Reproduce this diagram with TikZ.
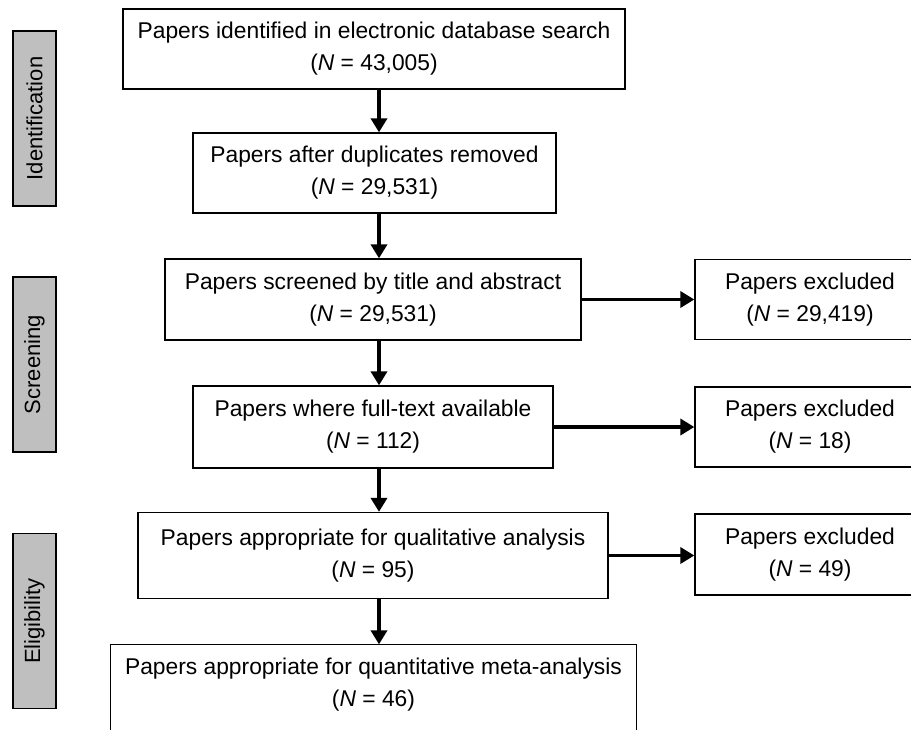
\documentclass[tikz,border=0pt]{standalone}
\usepackage{fontspec}
\setmainfont{Liberation Sans}
\usetikzlibrary{arrows.meta,calc}
\begin{document}
\begin{tikzpicture}[x=1pt, y=-1pt,
    box/.style={draw, line width=1.3pt, align=center, inner sep=0pt,
        font=\fontsize{22.8}{32}\selectfont},
    stage/.style={draw, line width=1.3pt, fill=black!25, inner sep=0pt,
        minimum width=43pt, minimum height=175pt,
        font=\fontsize{22}{26}\selectfont},
    flow/.style={line width=3.8pt, -{Triangle[length=14pt,width=16pt]}}]
    \clip (0,0) rectangle (911,729);
    \node[stage] (s1) at (34.5, 118.5) {\rotatebox{90}{Identification}};
    \node[stage] (s2) at (34.5, 364.5) {\rotatebox{90}{Screening}};
    \node[stage] (s3) at (34.5, 621) {\rotatebox{90}{Eligibility}};
    \node[box, minimum width=502pt, minimum height=80pt] (b1) at (374, 49)
        {Papers identified in electronic database search\\(\textit{N} = 43,005)};
    \node[box, minimum width=363pt, minimum height=80pt] (b2) at (374.5, 173)
        {Papers after duplicates removed\\(\textit{N} = 29,531)};
    \node[box, minimum width=416pt, minimum height=81pt] (b3) at (373, 299.5)
        {Papers screened by title and abstract\\(\textit{N} = 29,531)};
    \node[box, minimum width=360pt, minimum height=82pt] (b4) at (373, 427)
        {Papers where full-text available\\(\textit{N} = 112)};
    \node[box, minimum width=470pt, minimum height=86pt] (b5) at (373, 555.5)
        {Papers appropriate for qualitative analysis\\(\textit{N} = 95)};
    \node[box, draw=none, minimum width=525pt, minimum height=80pt] (b6) at (373.5, 685)
        {Papers appropriate for quantitative meta-analysis\\(\textit{N} = 46)};
    \draw[line width=1.3pt] (b6.north west) rectangle ($(b6.east)+(0,60)$);
    \node[box, minimum width=230pt, minimum height=80pt] (r1) at (810, 299.5)
        {Papers excluded\\(\textit{N} = 29,419)};
    \node[box, minimum width=230pt, minimum height=80pt] (r2) at (810, 427)
        {Papers excluded\\(\textit{N} = 18)};
    \node[box, minimum width=230pt, minimum height=81pt] (r3) at (810, 554.5)
        {Papers excluded\\(\textit{N} = 49)};
    \coordinate (spine) at (379, 0);
    \draw[flow] (b1.south -| spine) -- (b2.north -| spine);
    \draw[flow] (b2.south -| spine) -- (b3.north -| spine);
    \draw[flow] (b3.south -| spine) -- (b4.north -| spine);
    \draw[flow] (b4.south -| spine) -- (b5.north -| spine);
    \draw[flow] (b5.south -| spine) -- (b6.north -| spine);
    \draw[flow] (b3.east) -- (b3.east -| r1.west);
    \draw[flow] (b4.east) -- (b4.east -| r2.west);
    \draw[flow] (b5.east) -- (b5.east -| r3.west);
\end{tikzpicture}
\end{document}
